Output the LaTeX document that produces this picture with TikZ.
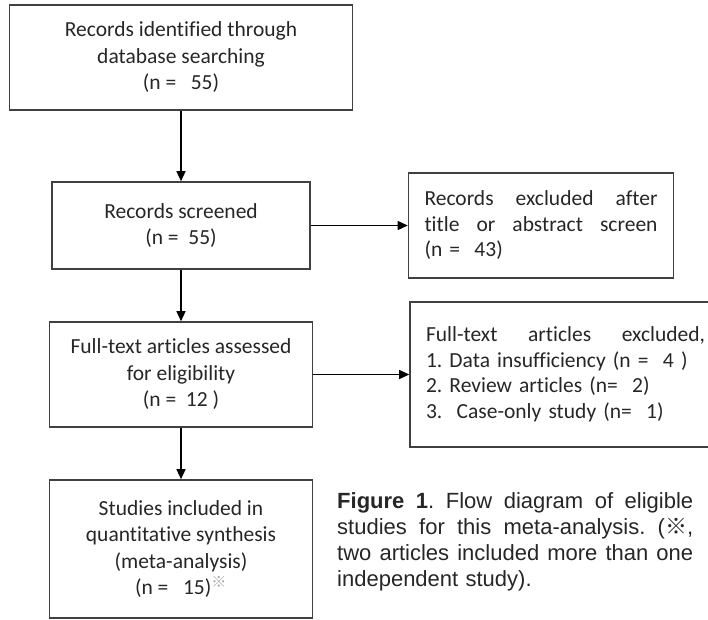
\documentclass[tikz,border=0pt]{standalone}
\usepackage{fontspec}
\setmainfont{Carlito}[Ligatures=NoCommon]
\newfontfamily\capfont{Liberation Sans}
\newfontfamily\cjk{Noto Sans CJK SC}
\usepackage{tikz}
\usetikzlibrary{positioning,arrows.meta}
\newcommand{\jline}[2]{\leavevmode\hbox to #1{\spaceskip=0.25em plus 1fil\relax #2}}
\frenchspacing

\begin{document}
\begin{tikzpicture}[x=1pt,y=-1pt,
  box/.style={draw=black!75, line width=1.6pt, inner sep=0pt, align=center, text=black!85,
    font=\fontsize{21.5}{26.5}\selectfont},
  sidebox/.style={draw=black!75, line width=1.6pt, inner xsep=16pt, inner ysep=0pt, align=left, text=black!85,
    font=\fontsize{21.5}{25.5}\selectfont},
  arr/.style={line width=1.3pt, -{Triangle[length=10pt,width=9pt]}}]
\useasboundingbox (0,0) rectangle (708,619);
\clip (0,0) rectangle (708,619);
\node[box, minimum width=343pt, minimum height=105pt] (ident) at (181,57.5) {Records identified through\\database searching\\(n = \ \ 55)};
\node[box, minimum width=258pt, minimum height=87pt] (screen) at (181,225.5) {Records screened\\(n = \ 55)};
\node[box, minimum width=263pt, minimum height=105pt] (full) at (181,374.5) {Full-text articles assessed\\for eligibility\\(n = \ 12 )};
\node[box, minimum width=263pt, minimum height=138pt] (incl) at (181,549) {Studies included in\\quantitative synthesis\\(meta-analysis)\\(n = \ \ 15){\color{black!35}\textsuperscript{\cjk ※}}};
\node[sidebox, text width=233pt, minimum height=105pt] (exclA) at (541,225.5) {\jline{233pt}{Records excluded after}\\\jline{233pt}{title or abstract screen}\\(n = \ 43)};
\node[sidebox, text width=279pt, minimum height=145pt] (exclB) at (565.5,374.5) {\jline{279pt}{Full-text articles excluded,}\\1. Data insufficiency (n = \ 4 )\\2. Review articles (n= \ 2)\\3. \ Case-only study (n= \ 1)};
\draw[arr] (ident) -- (screen);
\draw[arr] (screen) -- (full);
\draw[arr] (full) -- (incl);
\draw[arr] (screen) -- (exclA);
\draw[arr] (full) -- (exclB);
\node[anchor=north west, inner sep=0pt, align=left, text width=356pt, text=black!85,
  font=\capfont\fontsize{22}{26}\selectfont] (caption) at (337,492)
  {\jline{356pt}{\textbf{Figure 1}. Flow diagram of eligible}\\
   \jline{356pt}{studies for this meta-analysis. ({\cjk ※},}\\
   \jline{356pt}{two articles included more than one}\\
   independent study).};
\end{tikzpicture}
\end{document}
